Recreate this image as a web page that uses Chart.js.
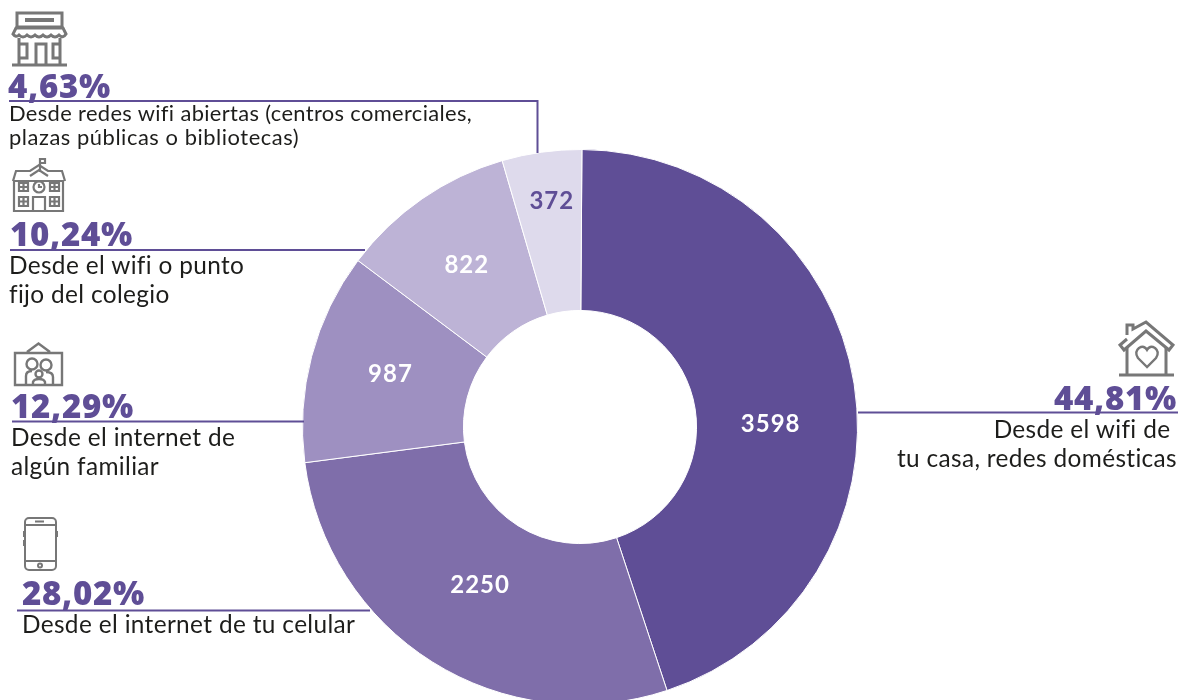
<!DOCTYPE html>
<html>
<head>
<meta charset="utf-8">
<script src="https://cdn.jsdelivr.net/npm/chart.js@4"></script>
<style>
html, body { margin: 0; padding: 0; background: #fff; width: 1178px; height: 700px; overflow: hidden; }
#chart { position: absolute; left: 0; top: 0; }
#overlay { position: absolute; left: 0; top: 0; }
.pct { position: absolute; font: 800 33px "Open Sans", sans-serif; color: #5f4e96; line-height: 32px; white-space: nowrap; letter-spacing: 0.7px; }
.txt { position: absolute; font: 400 24.4px Lato, sans-serif; color: #1d1d1b; line-height: 28.5px; white-space: pre; letter-spacing: 0.35px; }
.txt.small { font-size: 21.9px; line-height: 24px; }
.txt.right { text-align: right; }
.icon { fill: none; stroke: #777; }
</style>
</head>
<body>
<canvas id="chart" width="1178" height="705"></canvas>
<svg id="overlay" width="1178" height="700">
  <g fill="none" stroke="#5f4e96" stroke-width="2">
    <path d="M9 101H537.5V153"/>
    <path d="M10 250H365"/>
    <path d="M12 421.5H304"/>
    <path d="M17 610.5H370"/>
    <path d="M858 412.5H1178"/>
  </g>
  <!-- tienda -->
  <g class="icon" stroke-width="3">
    <path d="M17 13H62V27H17Z"/>
    <path d="M25 20H54" stroke-width="4"/>
    <path d="M16 28H63L66 34Q63 39 59 35Q55 39 51 35Q47 39 43 35Q39 39 35 35Q31 39 27 35Q23 39 19 35Q16 38 13 34Z"/>
    <path d="M19 38V64M60 38V64M12 65H67"/>
    <path d="M36 64V44H46V64M19 44H27V58H19M60 44H53V58H60"/>
  </g>
  <!-- colegio -->
  <g class="icon" stroke-width="2.2">
    <path d="M40 172V159H45V163H40"/>
    <path d="M13 181L16 171H30L39 165L48 171H62L65 181"/>
    <path d="M30 176L39 170L48 176"/>
    <path d="M14 181H63V211H14Z"/>
    <circle cx="39" cy="187" r="5.500"/>
    <path d="M39 184V187H42"/>
    <path d="M19 183H28V191H19ZM50 183H59V191H50ZM19 197H28V206H19ZM50 197H59V206H50ZM33 211V197H45V211"/>
    <path d="M23.500 183V191M19 187H28M54.500 183V191M50 187H59M23.500 197V206M19 201.500H28M54.500 197V206M50 201.500H59"/>
  </g>
  <!-- familia -->
  <g class="icon" stroke-width="2.4">
    <path d="M15 385V353H62V385ZM27 352L38.500 343.500L50 352"/>
    <circle cx="32" cy="364" r="5.500"/>
    <circle cx="46" cy="365" r="5.500"/>
    <circle cx="39" cy="374" r="3.500"/>
    <path d="M26 385V376Q26 371 32 371M53 385V377Q53 372 46 372M33 385V382Q34 379 39 379Q44 379 45 382V385"/>
  </g>
  <!-- celular -->
  <g class="icon" stroke-width="2">
    <rect x="25" y="518" width="31" height="52" rx="4"/>
    <path d="M25 525H56M25 561H56M35 521.500H44"/>
    <circle cx="40" cy="565.500" r="2"/>
    <path d="M24 531V537M24 540V546M57 531V537"/>
  </g>
  <!-- casa -->
  <g class="icon" stroke-width="3">
    <path d="M1127 335V325H1133V329L1146 322L1173 345L1169 350L1146 331L1124 350L1120 345L1127 339"/>
    <path d="M1127 348V374M1166 348V374M1119 375H1174"/>
    <path d="M1147 367L1138 358Q1134 352 1139 348Q1144 345 1147 350Q1150 345 1155 348Q1160 352 1156 358Z" stroke-width="2.4"/>
  </g>
</svg>
<div class="pct" style="left:8px;top:70px">4,63%</div>
<div class="txt small" style="left:9px;top:101px">Desde redes wifi abiertas (centros comerciales,
<span style="letter-spacing:0.55px">plazas públicas o bibliotecas)</span></div>
<div class="pct" style="left:10px;top:218px">10,24%</div>
<div class="txt" style="left:9px;top:251px">Desde el wifi o punto
fijo del colegio</div>
<div class="pct" style="left:11px;top:390px">12,29%</div>
<div class="txt" style="left:11px;top:423px">Desde el internet de
algún familiar</div>
<div class="pct" style="left:22px;top:577px">28,02%</div>
<div class="txt" style="left:22px;top:610px">Desde el internet de tu celular</div>
<div class="pct" style="right:1px;top:382px">44,81%</div>
<div class="txt right" style="right:1px;top:415px">Desde el wifi de 
tu casa, redes domésticas</div>
<script>
var categories = ['Wifi de casa', 'Internet del celular', 'Internet de un familiar', 'Wifi del colegio', 'Redes wifi abiertas'];
var seriesValues = [3598, 2250, 987, 822, 372];
var sliceColors = ['#5f4e96', '#7f6eaa', '#9e90c1', '#bdb3d6', '#dedaec'];
var labelColors = ['#ffffff', '#ffffff', '#ffffff', '#ffffff', '#5f4e96'];
// el original no centra las etiquetas en el anillo
var labelNudges = [[-4, 28], [5, -9], [1, -3], [-1, 0], [-1, -31]];

var sliceLabels = {
    id: 'sliceLabels',
    afterDatasetsDraw: function(chart) {
        var ctx = chart.ctx;
        ctx.save();
        ctx.font = '700 24px Lato, sans-serif';
        ctx.letterSpacing = '1px';
        ctx.textAlign = 'center';
        ctx.textBaseline = 'middle';
        chart.getDatasetMeta(0).data.forEach(function(arc, i) {
            var p = arc.tooltipPosition();
            ctx.fillStyle = labelColors[i];
            ctx.fillText(String(seriesValues[i]), p.x + labelNudges[i][0], p.y + labelNudges[i][1]);
        });
        ctx.restore();
    }
};

new Chart(document.getElementById('chart').getContext('2d'), {
    type: 'doughnut',
    data: {
        labels: categories,
        datasets: [{
            data: seriesValues,
            backgroundColor: sliceColors,
            borderColor: '#ffffff',
            borderWidth: 1
        }]
    },
    options: {
        responsive: false,
        animation: false,
        cutout: '42%',
        rotation: 0.4,
        layout: { padding: { left: 302, right: 320, top: 149, bottom: 0 } },
        plugins: { legend: { display: false }, tooltip: { enabled: false } }
    },
    plugins: [sliceLabels]
});
</script>
</body>
</html>
